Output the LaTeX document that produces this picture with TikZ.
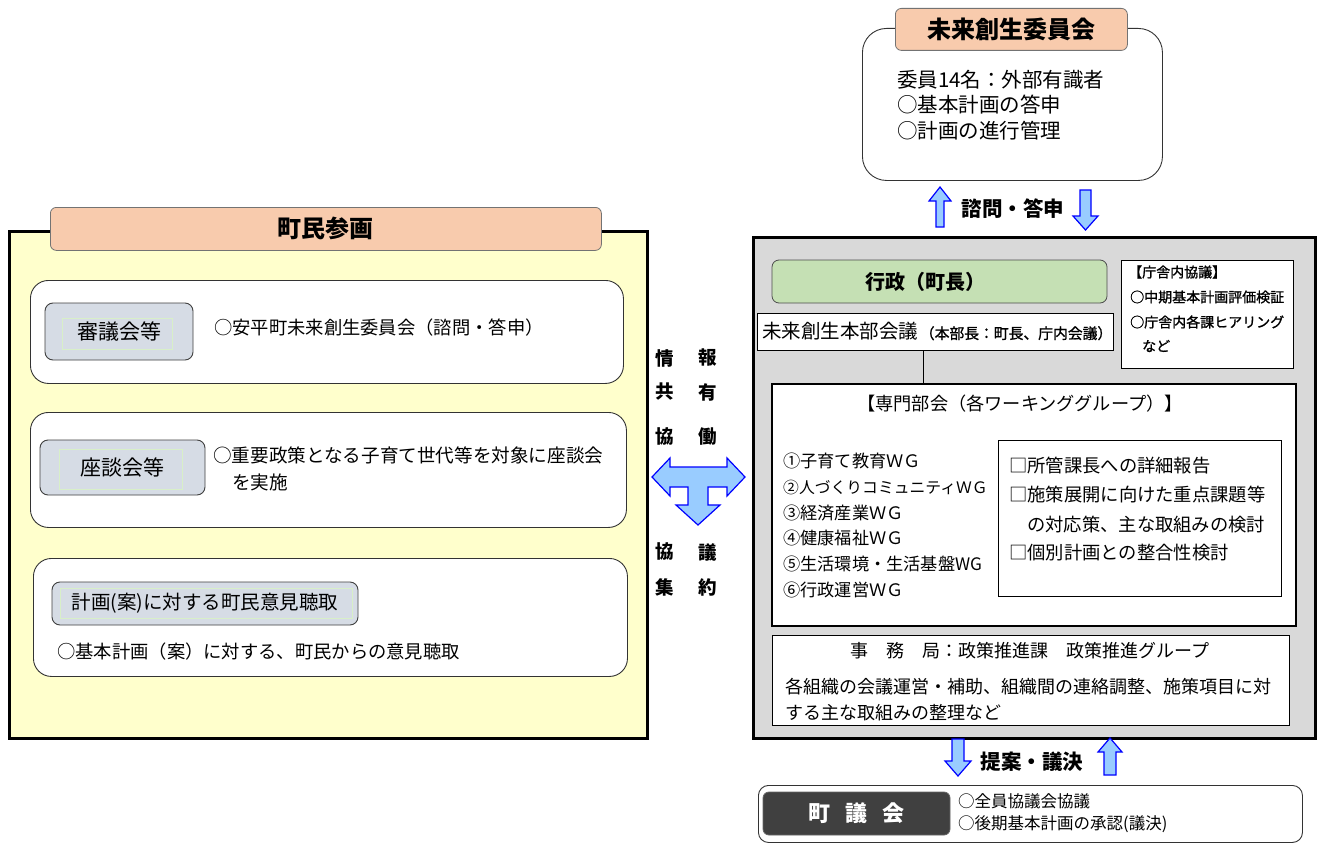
\documentclass[tikz,border=0pt]{standalone}
\usepackage{fontspec}
\setmainfont{Noto Sans CJK JP}
\newfontfamily\semibold{Noto Sans CJK JP}[FakeBold=1.2]
\usetikzlibrary{calc}
\definecolor{peach}{HTML}{F8CBAD}
\definecolor{lightyellow}{HTML}{FFFFCC}
\definecolor{greyblue}{HTML}{D6DCE5}
\definecolor{panelgrey}{HTML}{D9D9D9}
\definecolor{palegreen}{HTML}{C5E0B4}
\definecolor{darkbox}{HTML}{404040}
\definecolor{arrowblue}{HTML}{99CCFF}
\definecolor{arrowedge}{HTML}{0000FF}
\definecolor{faintgreen}{HTML}{D8EFC8}
\newcommand{\myfs}[1]{\fontsize{#1}{#1}\selectfont}
\tikzset{
  tab/.style={draw=black!55, fill=peach, rounded corners=6pt, line width=0.8pt, font=\myfs{24}\bfseries, anchor=north west},
  roundbox/.style={draw=black!80, fill=white, line width=0.9pt, anchor=north west},
  greybox/.style={draw=black!75, fill=greyblue, rounded corners=8pt, line width=0.9pt},
  whitebox/.style={draw=black, fill=white, line width=0.8pt, anchor=north west},
  txt/.style={inner sep=0pt, anchor=west, font=\myfs{18.3}},
  bigtxt/.style={inner sep=0pt, anchor=west, font=\myfs{20.5}},
  midtxt/.style={inner sep=0pt, font=\myfs{18.5}\bfseries},
  smalltxt/.style={inner sep=0pt, anchor=west, font=\myfs{14}\semibold},
  blockarrow/.style={draw=arrowedge, fill=arrowblue, line width=1.2pt, line join=miter},
  faint/.style={draw=faintgreen, line width=0.5pt}
}
\begin{document}
\begin{tikzpicture}[x=1pt,y=-1pt]
\useasboundingbox (0,0) rectangle (1322,843);

% ---------- top committee ----------
\node[roundbox, rounded corners=24pt, minimum width=300pt, minimum height=152pt] (iinkai) at (862,28) {};
\node[tab, minimum width=232pt, minimum height=42pt] (iinkaitab) at (895,8) {未来創生委員会};
\node[bigtxt] (c1) at (897,80) {委員14名：外部有識者};
\node[bigtxt] (c2) at (897,105) {○基本計画の答申};
\node[bigtxt] (c3) at (897,131) {○計画の進行管理};

% arrows between committee and administration
\draw[blockarrow] (940,187) -- (951,201) -- (944,201) -- (944,227) -- (936,227) -- (936,201) -- (929,201) -- cycle;
\node[inner sep=0pt, font=\myfs{20.5}\bfseries] (shimon) at (1013,209) {諮問・答申};
\draw[blockarrow] (1080,190) -- (1091,190) -- (1091,216) -- (1098,216) -- (1085.5,230) -- (1073,216) -- (1080,216) -- cycle;

% ---------- left panel ----------
\node[draw=black, line width=3pt, fill=lightyellow, minimum width=638pt, minimum height=507pt, anchor=north west] (chomin) at (8,230) {};
\node[tab, minimum width=551pt, minimum height=43pt] (chomintab) at (50,207) {町民参画};

\node[roundbox, rounded corners=18pt, minimum width=593pt, minimum height=103pt] (box1) at (30,280) {};
\node[greybox, minimum width=148pt, minimum height=57pt, font=\myfs{21}] (grey1) at (119,331.5) {審議会等};
\draw[faint] (62,318) rectangle (172,349);
\node[txt] (t1) at (214,328) {○安平町未来創生委員会（諮問・答申）};

\node[roundbox, rounded corners=18pt, minimum width=596pt, minimum height=115pt] (box2) at (30,412) {};
\node[greybox, minimum width=165pt, minimum height=55pt, font=\myfs{21}] (grey2) at (122.5,467.5) {座談会等};
\draw[faint] (59,449) rectangle (182,489);
\node[txt, font=\myfs{18.6}] (t2a) at (213,455) {○重要政策となる子育て世代等を対象に座談会};
\node[txt, font=\myfs{18.6}] (t2b) at (232,482) {を実施};

\node[roundbox, rounded corners=18pt, minimum width=594pt, minimum height=118pt] (box3) at (33,558) {};
\node[greybox, minimum width=306pt, minimum height=43pt, font=\myfs{19.5}] (grey3) at (205,603.5) {計画(案)に対する町民意見聴取};
\draw[faint] (60,588) rectangle (352,618);
\node[txt] (t3) at (57,652) {○基本計画（案）に対する、町民からの意見聴取};

% ---------- middle ----------
\node[midtxt] (m1) at (665,358) {情};
\node[midtxt] (m2) at (708,358) {報};
\node[midtxt] (m3) at (665,392) {共};
\node[midtxt] (m4) at (708,392) {有};
\node[midtxt] (m5) at (665,437) {協};
\node[midtxt] (m6) at (708,437) {働};
\draw[blockarrow] (652,477) -- (670,458) -- (670,467) -- (727,467) -- (727,458) -- (745,477) -- (727,496) -- (727,487) -- (708,487) -- (708,505) -- (720,505) -- (698,525) -- (676,505) -- (688,505) -- (688,487) -- (670,487) -- (670,496) -- cycle;
\node[midtxt] (m7) at (665,552) {協};
\node[midtxt] (m8) at (708,552) {議};
\node[midtxt] (m9) at (665,587) {集};
\node[midtxt] (m10) at (708,587) {約};

% ---------- right panel ----------
\node[draw=black, line width=3pt, fill=panelgrey, minimum width=562pt, minimum height=501pt, anchor=north west] (gyoseipanel) at (752,236) {};
\node[draw=black!70, fill=palegreen, rounded corners=7pt, line width=0.8pt, minimum width=335pt, minimum height=43pt] (gyosei) at (939.5,281.5) {};
\node[inner sep=0pt, font=\myfs{20}\bfseries] (gyoseitxt) at (925,281.5) {行政（町長）};

\node[whitebox, minimum width=172pt, minimum height=108pt] (chosha) at (1121,260) {};
\node[smalltxt] (k1) at (1128,272) {【庁舎内協議】};
\node[smalltxt] (k2) at (1130,297) {○中期基本計画評価検証};
\node[smalltxt] (k3) at (1130,322) {○庁舎内各課ヒアリング};
\node[smalltxt] (k4) at (1142,346) {など};

\node[whitebox, minimum width=356pt, minimum height=37pt] (honbu) at (757,313) {};
\node[inner sep=0pt, anchor=west] (honbutxt) at (762,331.5) {{\myfs{19.5}未来創生本部会議}\,{\myfs{14.8}\semibold（本部長：町長、庁内会議）}};

\coordinate (linex) at (923,0);
\draw[line width=0.8pt] (honbu.south -| linex) -- (923,383);

\node[whitebox, line width=1.5pt, minimum width=524pt, minimum height=242pt] (senmon) at (771,383) {};
\node[inner sep=0pt, font=\myfs{18.2}] (senmontitle) at (1020,404) {【専門部会（各ワーキンググループ）】};
\node[txt, font=\myfs{17.2}] (w1) at (783,461) {①子育て教育ＷＧ};
\node[txt, font=\myfs{15.8}] (w2) at (783,487) {②人づくりコミュニティＷＧ};
\node[txt, font=\myfs{17.2}] (w3) at (783,513) {③経済産業ＷＧ};
\node[txt, font=\myfs{17.2}] (w4) at (783,538) {④健康福祉ＷＧ};
\node[txt, font=\myfs{17.2}] (w5) at (783,564) {⑤生活環境・生活基盤WG};
\node[txt, font=\myfs{17.2}] (w6) at (783,590) {⑥行政運営ＷＧ};

\node[whitebox, line width=0.8pt, minimum width=283pt, minimum height=156pt] (kento) at (998,440) {};
\node[txt] (p1) at (1009,466) {□所管課長への詳細報告};
\node[txt] (p2) at (1009,495) {□施策展開に向けた重点課題等};
\node[txt] (p3) at (1027,525) {の対応策、主な取組みの検討};
\node[txt] (p4) at (1009,553) {□個別計画との整合性検討};

\node[whitebox, minimum width=517pt, minimum height=90pt] (jimu) at (772,635) {};
\node[inner sep=0pt, font=\myfs{18}] (jimu1) at (1030,651) {事　務　局：政策推進課　政策推進グループ};
\node[txt, font=\myfs{18}] (jimu2) at (785,687) {各組織の会議運営・補助、組織間の連絡調整、施策項目に対};
\node[txt, font=\myfs{18}] (jimu3) at (785,713) {する主な取組みの整理など};

% arrows between administration and council
\draw[blockarrow] (952,739) -- (964,739) -- (964,761) -- (971,761) -- (958,776) -- (945,761) -- (952,761) -- cycle;
\node[inner sep=0pt, font=\myfs{20.5}\bfseries] (teian) at (1032,762) {提案・議決};
\draw[blockarrow] (1110,738) -- (1122,752) -- (1116,752) -- (1116,775) -- (1104,775) -- (1104,752) -- (1098,752) -- cycle;

% ---------- town council ----------
\node[roundbox, rounded corners=10pt, minimum width=544pt, minimum height=57pt] (council) at (758,785) {};
\node[draw=black!60, fill=darkbox, rounded corners=6pt, line width=0.8pt, minimum width=187pt, minimum height=43pt, text=white, font=\myfs{22}\bfseries] (gikai) at (856.5,813.5) {町\hspace{15pt}議\hspace{15pt}会};
\node[inner sep=0pt, anchor=west, font=\myfs{16.5}] (g1) at (958,801) {○全員協議会協議};
\node[inner sep=0pt, anchor=west, font=\myfs{16.5}] (g2) at (958,824) {○後期基本計画の承認(議決)};
\end{tikzpicture}
\end{document}
